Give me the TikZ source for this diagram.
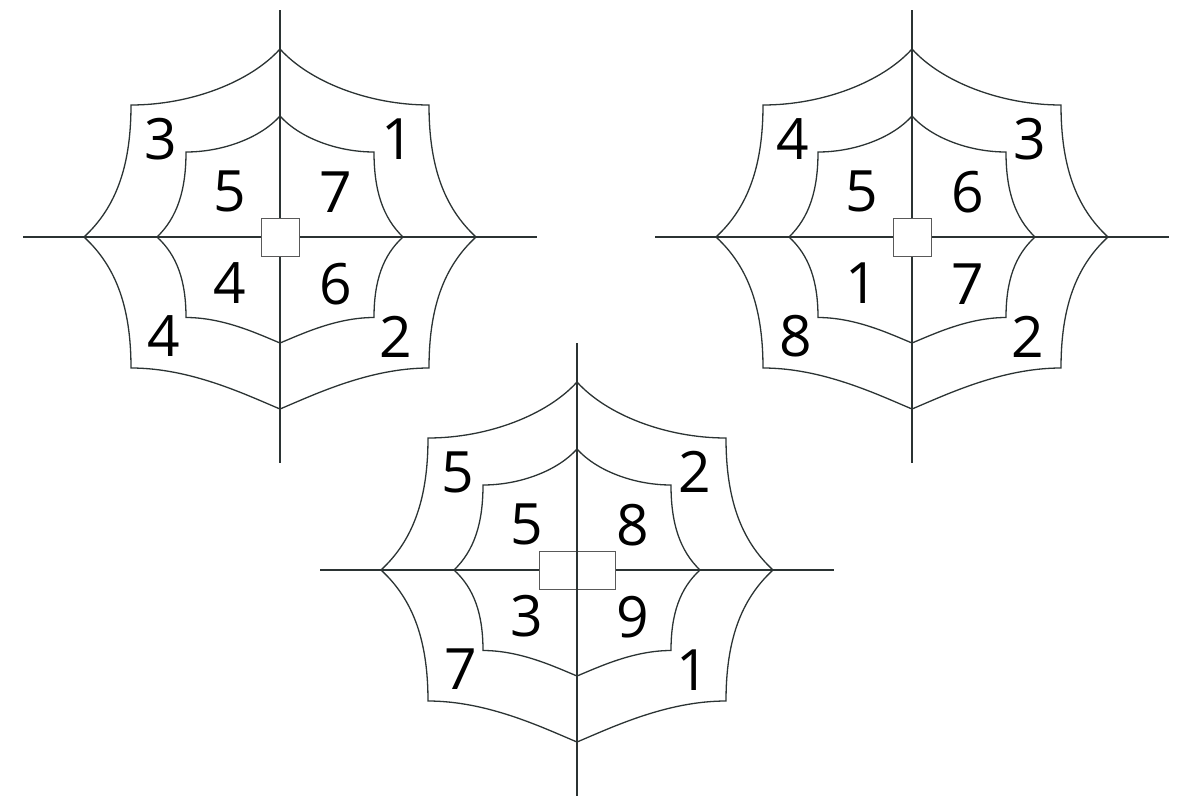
\documentclass[tikz,border=0pt]{standalone}
\usepackage{fontspec}
\setmainfont{Open Sans}
\definecolor{webgrey}{HTML}{2B3333}
\tikzset{
  webline/.style={draw=webgrey, line width=1.3pt, line join=miter},
  hubbox/.style={draw=black!65, line width=0.9pt, fill=white, inner sep=0pt, minimum height=38pt},
  num/.style={inner sep=0pt, font=\fontsize{57}{60}\selectfont, text=black},
}
% #1 top vertex, #2 top corner y, #3 corner x, #4 side vertex, #5 bottom corner y, #6 bottom vertex
\newcommand\halfweb[6]{%
  \draw[webline] (0,-#1)
    .. controls ({-0.2*#3},{-#1+0.59*(#1-#2)}) and ({-0.6*#3},{-#2}) .. ({-#3},{-#2})
    .. controls ({-#3},{-0.55*#2}) and ({-#3-0.3*(#4-#3)},{-0.23*#2}) .. ({-#4},0)
    .. controls ({-#3-0.3*(#4-#3)},{0.23*#5}) and ({-#3},{0.55*#5}) .. ({-#3},{#5})
    .. controls ({-0.6*#3},{#5}) and ({-0.23*#3},{#5+0.65*(#6-#5)}) .. (0,{#6});}
\newcommand\fullweb{%
  \halfweb{188}{132}{149}{196}{131}{172}%
  \halfweb{121}{85}{94}{123}{80.5}{106}%
  \begin{scope}[xscale=-1]
    \halfweb{188}{132}{149}{196}{131}{172}%
    \halfweb{121}{85}{94}{123}{80.5}{106}%
  \end{scope}}
\newcommand\webaxes[1]{%
  \coordinate (#1w) at (-257,0);
  \coordinate (#1e) at (257,0);
  \coordinate (#1n) at (0,-227);
  \coordinate (#1s) at (0,226);}
\newcommand\weblabels[9]{%
  \node[num] (#1otl) at (-119,-98) {#2};
  \node[num] (#1otr) at (118,-98) {#3};
  \node[num] (#1itl) at (-50,-46) {#4};
  \node[num] (#1itr) at (56,-45) {#5};
  \node[num] (#1ibl) at (-50,46) {#6};
  \node[num] (#1ibr) at (56,47) {#7};
  \node[num] (#1obl) at (-116,99) {#8};
  \node[num] (#1obr) at (116,100) {#9};}
\begin{document}
\begin{tikzpicture}[x=1pt,y=-1pt]
\useasboundingbox (0,0) rectangle (1179,798);
% web 1
\begin{scope}[shift={(280,237)}]
  \webaxes{a}
  \draw[webline] (aw) -- (ae);
  \draw[webline] (an) -- (as);
  \fullweb
  \node[hubbox, minimum width=38pt] (ahub) at (0,0) {};
  \weblabels{a}{3}{1}{5}{7}{4}{6}{4}{2}
\end{scope}
% web 2
\begin{scope}[shift={(912,237)}]
  \webaxes{b}
  \draw[webline] (bw) -- (be);
  \draw[webline] (bn) -- (bs);
  \fullweb
  \node[hubbox, minimum width=38pt] (bhub) at (0,0) {};
  \weblabels{b}{4}{3}{5}{6}{1}{7}{8}{2}
\end{scope}
% web 3
\begin{scope}[shift={(577,570)}]
  \webaxes{c}
  \draw[webline] (cw) -- (ce);
  \fullweb
  \node[hubbox, minimum width=76pt] (chub) at (0,0.8) {};
  \draw[webline] (cn) -- (cs);
  \weblabels{c}{5}{2}{5}{8}{3}{9}{7}{1}
\end{scope}
\end{tikzpicture}
\end{document}
